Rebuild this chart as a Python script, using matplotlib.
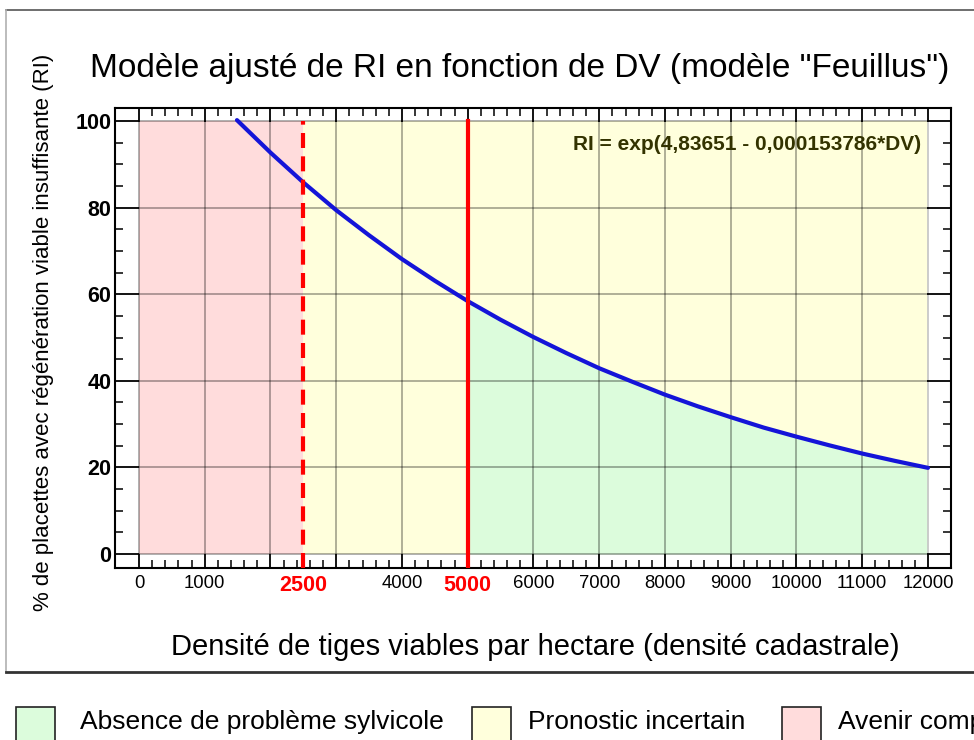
import numpy as np
import matplotlib
matplotlib.use("Agg")
import matplotlib.pyplot as plt
from matplotlib.lines import Line2D
from matplotlib.patches import Rectangle

plt.rcParams['font.family'] = ['Liberation Sans', 'DejaVu Sans']

# curve (RI in %, DV in stems/ha)
dv = [1490, 2000, 2500, 3000, 3500, 4000, 4500, 5000, 5500, 6000, 6500, 7000,
      7500, 8000, 8500, 9000, 9500, 10000, 10500, 11000, 11500, 12000]
ri = [100.2, 92.7, 85.8, 79.4, 73.6, 68.1, 63.1, 58.4, 54.1, 50.1, 46.4, 42.9,
      39.8, 36.8, 34.1, 31.6, 29.2, 27.1, 25.1, 23.2, 21.5, 19.9]

# zones
seuil_bas = 2500
seuil_haut = 5000
x_max = 12000
y_max = 100

xticks = [0, 1000, 2000, 3000, 4000, 5000, 6000, 7000, 8000, 9000, 10000, 11000, 12000]
xlabels = ['0', '1000', '', '', '4000', '5000', '6000', '7000', '8000', '9000',
           '10000', '11000', '12000']
yticks = [0, 20, 40, 60, 80, 100]

zones = ['Absence de problème sylvicole', 'Pronostic incertain', 'Avenir compromis']
c_green = '#dcfcdc'
c_yellow = '#ffffdc'
c_red = '#ffdcdc'

W, H = 974, 740
fig = plt.figure(figsize=(W / 100, H / 100), dpi=100)
ax = fig.add_axes([115 / W, 1 - 568 / H, 836 / W, 460 / H])
ax.set_xlim(-365, 12350)
ax.set_ylim(-3.23, 103.0)

# background zones
ax.add_patch(Rectangle((0, 0), seuil_bas, y_max, facecolor=c_red, edgecolor='none', zorder=0))
ax.add_patch(Rectangle((seuil_bas, 0), x_max - seuil_bas, y_max, facecolor=c_yellow,
                       edgecolor='none', zorder=0))
dv_a = np.array(dv)
ri_a = np.array(ri)
m = dv_a >= seuil_haut
ax.fill_between(dv_a[m], 0, ri_a[m], color=c_green, lw=0, zorder=0.5)

# grid
for x in xticks[:-1]:
    ax.plot([x, x], [0, y_max], color='k', alpha=0.4, lw=1.1, zorder=1)
ax.plot([x_max, x_max], [0, y_max], color='#c8c8c8', lw=1.3, zorder=1)
for y in yticks:
    ax.plot([0, x_max], [y, y], color='k', alpha=0.4, lw=1.1, zorder=1)

ax.plot(dv, ri, color='#1414d8', lw=3, zorder=3, solid_capstyle='round')

ax.plot([seuil_bas, seuil_bas], [-3.23, y_max], color='#ff0000', lw=3,
        dashes=(3.6, 2.0), zorder=4)
ax.plot([seuil_haut, seuil_haut], [-3.23, y_max], color='#ff0000', lw=3, zorder=4)

ax.text(11900, 94.6, 'RI = exp(4,83651 - 0,000153786*DV)', ha='right', va='center',
        fontsize=15, fontweight='bold', color='#333300', zorder=5)

# ticks
ax.set_xticks(xticks)
ax.set_xticklabels(xlabels, fontsize=13.3)
ax.set_xticks(np.arange(0, 12001, 200), minor=True)
ax.set_yticks(yticks)
ax.set_yticklabels([str(v) for v in yticks], fontsize=15.5, fontweight='bold')
ax.set_yticks(np.arange(0, 101, 5), minor=True)
ax.tick_params(axis='x', which='major', direction='in', length=10, width=1.3,
               top=True, pad=5)
ax.tick_params(axis='x', which='minor', direction='in', length=5.5, width=1.1, top=True)
ax.tick_params(axis='y', which='major', direction='in', length=17, width=1.3,
               right=True, pad=2.5)
ax.tick_params(axis='y', which='minor', direction='in', length=5.5, width=1.1, right=True)
for lab in ax.get_xticklabels():
    if lab.get_text() == '5000':
        lab.set_color('#ff0000')
        lab.set_fontweight('bold')
        lab.set_fontsize(15.5)
ax.annotate('2500', xy=(seuil_bas, 0), xycoords=('data', 'axes fraction'),
            xytext=(0, -5), textcoords='offset points', ha='center', va='top',
            color='#ff0000', fontweight='bold', fontsize=15.5)
for s in ax.spines.values():
    s.set_linewidth(1.5)

# titles
fig.text(520 / W, 1 - 68 / H, 'Modèle ajusté de RI en fonction de DV (modèle "Feuillus")',
         ha='center', va='center', fontsize=24)
fig.text(535 / W, 1 - 647 / H, 'Densité de tiges viables par hectare (densité cadastrale)',
         ha='center', va='center', fontsize=21)
fig.text(44 / W, 1 - 332 / H, '% de placettes avec régénération viable insuffisante (RI)',
         ha='center', va='center', rotation=90, fontsize=16)

# frame around the chart
fig.add_artist(Line2D([6 / W, 1], [1 - 10 / H, 1 - 10 / H], color='#555555', lw=1.2))
fig.add_artist(Line2D([6 / W, 6 / W], [1 - 10 / H, 1 - 672 / H], color='#b0b0b0', lw=1.2))
fig.add_artist(Line2D([6 / W, 1], [1 - 672 / H, 1 - 672 / H], color='#333333', lw=2))

# legend
box_x = [16, 472, 782]
txt_x = [80, 528, 838]
cols = [c_green, c_yellow, c_red]
for bx, tx, c, lab in zip(box_x, txt_x, cols, zones):
    fig.add_artist(Rectangle((bx / W, -0.02), 39 / W, (740 - 707) / H + 0.02,
                             facecolor=c, edgecolor='#222222', lw=1.2,
                             transform=fig.transFigure))
    fig.text(tx / W, 1 - 722 / H, lab, ha='left', va='center', fontsize=19)

fig.savefig('out.png', dpi=100)
